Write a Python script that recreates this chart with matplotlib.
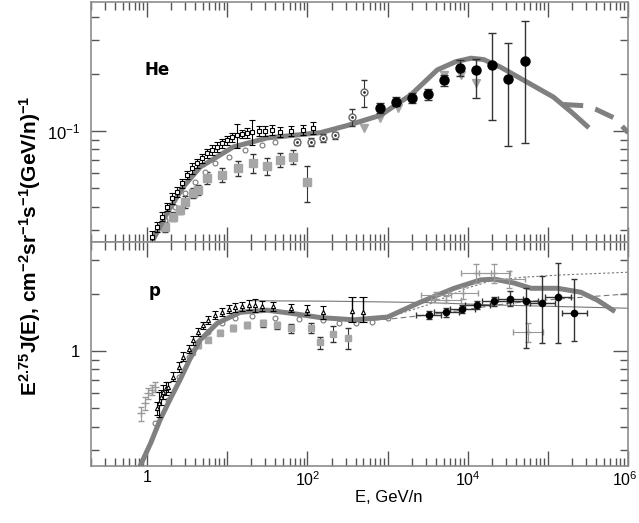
import matplotlib
matplotlib.use("Agg")
import matplotlib.pyplot as plt
from matplotlib.ticker import FixedLocator, LogLocator, FuncFormatter, NullFormatter
from matplotlib.transforms import ScaledTranslation

plt.rcParams['font.family'] = ['Liberation Sans', 'DejaVu Sans']
plt.rcParams['mathtext.fontset'] = 'custom'
plt.rcParams['mathtext.rm'] = 'Liberation Sans'
plt.rcParams['mathtext.it'] = 'Liberation Sans:italic'
plt.rcParams['mathtext.bf'] = 'Liberation Sans:bold'

# ---------------- He panel ----------------
he_curve_E = [1.15, 1.78, 2.82, 4.6, 11.9, 31.6, 145, 316, 813, 1950, 4170, 7080,
              11000, 15800, 25700, 56200, 117000, 200000, 324000]
he_curve_J = [0.026, 0.037, 0.0507, 0.0646, 0.0824, 0.092, 0.098, 0.107, 0.121, 0.155,
              0.21, 0.232, 0.242, 0.238, 0.217, 0.18, 0.151, 0.125, 0.104]
he_dash_E = [155000, 282000, 398000, 676000, 1000000]
he_dash_J = [0.138, 0.136, 0.130, 0.117, 0.098]

# black open markers, upper band
he_band_E = [1.14, 1.32, 1.52, 1.76, 2.03, 2.35, 2.71, 3.13, 3.61, 4.18, 4.82, 5.57, 6.43,
             7.43, 8.58, 9.9, 11.4, 13.2, 15.3, 17.6, 20.3, 24.6, 29.9, 36.2, 45.7, 63, 87, 119]
he_band_J = [0.0278, 0.0313, 0.0354, 0.040, 0.0443, 0.048, 0.0531, 0.0586, 0.0636, 0.0676,
             0.0718, 0.0763, 0.0794, 0.0827, 0.0861, 0.0897, 0.0927, 0.0953, 0.0964, 0.098,
             0.099, 0.1004, 0.1004, 0.101, 0.0988, 0.100, 0.101, 0.104]
he_band_err = [0.002, 0.002, 0.002, 0.002, 0.003, 0.003, 0.003, 0.003, 0.004, 0.004, 0.004,
               0.004, 0.005, 0.005, 0.005, 0.005, 0.005, 0.014, 0.005, 0.006, 0.015, 0.006,
               0.006, 0.006, 0.006, 0.006, 0.006, 0.007]

# gray open circles along the curve
he_oc_E = [1.26, 1.68, 2.24, 2.98, 3.98, 5.31, 7.08, 10.4, 16.8, 27, 39.8]
he_oc_J = [0.0289, 0.034, 0.040, 0.047, 0.054, 0.061, 0.0676, 0.0733, 0.0794, 0.0844, 0.0879]

# gray filled squares, lower band
he_sq_E = [1.68, 2.13, 2.58, 2.98, 3.76, 4.38, 5.6, 8.7, 13.7, 21, 31.6, 46, 67, 100]
he_sq_J = [0.0313, 0.0354, 0.0384, 0.0425, 0.0472, 0.049, 0.0566, 0.0587, 0.0638, 0.0679,
           0.0655, 0.0704, 0.073, 0.054]
he_sq_err = [0.002, 0.002, 0.002, 0.003, 0.003, 0.003, 0.004, 0.005, 0.006, 0.008, 0.007,
             0.006, 0.006, 0.0115]

# gray dotted circles
he_circ_E = [75, 110, 158, 224, 363, 501]
he_circ_J = [0.0876, 0.0876, 0.092, 0.0953, 0.1185, 0.160]
he_circ_err = [0.003, 0.004, 0.004, 0.004, 0.012, 0.026]

# gray triangles
he_tri_E = [501, 813, 1330, 5010, 8130, 12600]
he_tri_J = [0.104, 0.117, 0.132, 0.197, 0.197, 0.179]

# black filled circles
he_blk_E = [794, 1260, 2000, 3160, 5010, 7940, 12600, 20000, 31600, 51300]
he_blk_J = [0.132, 0.143, 0.150, 0.156, 0.185, 0.216, 0.209, 0.222, 0.187, 0.234]
he_blk_lo = [0.008, 0.008, 0.009, 0.010, 0.012, 0.02, 0.06, 0.107, 0.104, 0.148]
he_blk_hi = [0.008, 0.008, 0.009, 0.010, 0.012, 0.02, 0.03, 0.105, 0.103, 0.146]

# ---------------- proton panel ----------------
p_curve_E = [0.82, 1.12, 1.45, 1.95, 2.57, 3.39, 4.57, 7.5, 14.5, 31.6, 63.1, 145,
             380, 1000, 2570, 6760, 14500, 21400, 38000, 61700, 132000, 257000, 417000, 646000]
p_curve_J = [0.248, 0.33, 0.433, 0.56, 0.703, 0.9, 1.14, 1.40, 1.60, 1.64, 1.58, 1.50,
             1.46, 1.51, 1.81, 2.14, 2.37, 2.39, 2.28, 2.14, 2.14, 2.04, 1.85, 1.64]

p_dot_E = [1000, 3160, 10000, 20000, 50100, 158000, 1000000]
p_dot_J = [1.50, 1.75, 2.15, 2.35, 2.45, 2.52, 2.60]
p_dash_E = [316, 1000, 3160, 10000, 31600, 100000, 316000, 1000000]
p_dash_J = [1.43, 1.47, 1.55, 1.66, 1.78, 1.86, 1.93, 2.00]
p_thin_E = [20, 200, 3000, 20000, 1000000]
p_thin_J = [1.84, 1.83, 1.80, 1.75, 1.68]

# low-energy crosses (gray) and black points
p_lx_E = [0.84, 0.93, 1.04, 1.15, 1.26]
p_lx_J = [0.47, 0.53, 0.60, 0.625, 0.65]
p_lb_E = [1.33, 1.41, 1.5, 1.6, 1.72]
p_lb_J = [0.50, 0.53, 0.57, 0.61, 0.64]
p_lb_err = [0.04, 0.08, 0.05, 0.05, 0.05]

# black open markers, upper band
p_band_E = [1.85, 2.13, 2.47, 2.84, 3.29, 3.79, 4.38, 5.06, 5.84, 7.08, 8.58, 10.4, 12.6,
            15.3, 18.5, 22.4, 27.1, 37.6, 61.7, 100, 158]
p_band_J = [0.649, 0.732, 0.826, 0.933, 1.03, 1.14, 1.26, 1.37, 1.46, 1.55, 1.61, 1.66, 1.70,
            1.72, 1.75, 1.75, 1.73, 1.72, 1.68, 1.64, 1.60]
p_band_err = [0.04, 0.04, 0.05, 0.05, 0.05, 0.06, 0.06, 0.06, 0.07, 0.07, 0.08, 0.08, 0.09,
              0.1, 0.1, 0.14, 0.1, 0.1, 0.08, 0.1, 0.12]

# two points with long error bars near 400 GeV
p_mid_E = [365, 490]
p_mid_J = [1.62, 1.60]
p_mid_lo = [0.20, 0.18]
p_mid_hi = [0.31, 0.33]

# gray open circles along the curve
p_circ_E = [1.26, 1.85, 2.47, 3.29, 4.38, 5.84, 8.58, 12.6, 20.3, 39.8, 79.4, 158, 251, 398, 631, 1000]
p_circ_J = [0.416, 0.552, 0.732, 0.933, 1.12, 1.26, 1.40, 1.49, 1.53, 1.50, 1.47, 1.45, 1.41,
            1.40, 1.42, 1.49]

# gray squares, lower band
p_sq_E = [3.61, 4.38, 5.84, 8.1, 11.9, 17.8, 28.2, 42.2, 61.7, 110, 145, 211, 324]
p_sq_J = [0.99, 1.07, 1.15, 1.25, 1.32, 1.37, 1.40, 1.37, 1.32, 1.32, 1.11, 1.23, 1.17]
p_sq_err = [0.03, 0.03, 0.04, 0.04, 0.05, 0.05, 0.06, 0.06, 0.07, 0.08, 0.08, 0.12, 0.15]

# black filled points with horizontal bars
p_blk_E = [3240, 5370, 8510, 13200, 21400, 33900, 52500, 85100, 132000, 214000]
p_blk_J = [1.55, 1.60, 1.66, 1.75, 1.83, 1.88, 1.83, 1.79, 1.92, 1.58]
p_blk_lo = [0.07, 0.08, 0.08, 0.08, 0.1, 0.15, 0.79, 0.69, 0.82, 0.45]
p_blk_hi = [0.07, 0.08, 0.08, 0.08, 0.1, 0.2, 0.31, 0.69, 0.98, 0.81]

# gray crosses
p_gx_E = [3980, 5370, 8710, 12600, 21400, 33100, 56200]
p_gx_J = [1.97, 1.86, 2.02, 2.57, 2.57, 2.40, 1.26]
p_gx_err = [0.08, 0.08, 0.15, 0.3, 0.3, 0.25, 0.14]

xmajor = [0.1, 1, 10, 100, 1e3, 1e4, 1e5, 1e6]
xlabels = {1: '1', 100: r'$10^2$', 1e4: r'$10^4$', 1e6: r'$10^6$'}

CURVE = '#808080'
FRAME = '#8c8c8c'

fig, (ax1, ax2) = plt.subplots(2, 1, figsize=(6.39, 5.23), dpi=100, sharex=True,
                               gridspec_kw={'height_ratios': [240, 224]})
fig.subplots_adjust(left=0.1424, right=0.983, top=0.996, bottom=0.109, hspace=0)

# He
ax1.errorbar(he_sq_E, he_sq_J, yerr=he_sq_err, fmt='s', ms=6, color='#a6a6a6', ecolor='#333333',
             elinewidth=0.8, capsize=2, zorder=3)
ax1.plot(he_oc_E, he_oc_J, 'o', ms=3.5, mfc='white', mec='#777777', mew=0.8, zorder=3)
ax1.plot(he_curve_E, he_curve_J, color=CURVE, lw=3.6, solid_capstyle='butt', zorder=4)
ax1.plot(he_dash_E, he_dash_J, color=CURVE, lw=3.6, dashes=(4, 2.5), zorder=4)
ax1.errorbar(he_band_E, he_band_J, yerr=he_band_err, fmt='s', ms=3, mfc='white', mec='black',
             mew=0.8, ecolor='black', elinewidth=0.8, capsize=2, zorder=5)
ax1.errorbar(he_circ_E, he_circ_J, yerr=he_circ_err, fmt='o', ms=5, mfc='white', mec='#666666',
             mew=1, ecolor='#333333', elinewidth=0.8, capsize=2.5, zorder=5)
ax1.plot(he_circ_E, he_circ_J, '.', ms=2, color='#333333', zorder=6)
ax1.plot(he_tri_E, he_tri_J, 'v', ms=6, color='#a6a6a6', zorder=3)
ax1.errorbar(he_blk_E, he_blk_J, yerr=[he_blk_lo, he_blk_hi], fmt='o', ms=6.5, color='black',
             ecolor='#333333', elinewidth=1, capsize=3, zorder=6)
ax1.text(0.123, 0.717, 'He', transform=ax1.transAxes, fontsize=12, fontweight='bold',
         family=['DejaVu Sans'], ha='center', va='center')
ax1.set_ylim(0.026, 0.478)

# p
ax2.plot(p_dot_E, p_dot_J, color='#777777', lw=0.8, ls=(0, (2, 2)), zorder=2)
ax2.plot(p_dash_E, p_dash_J, color='#777777', lw=0.8, ls=(0, (5, 3)), zorder=2)
ax2.plot(p_thin_E, p_thin_J, color='#777777', lw=0.8, zorder=2)
ax2.errorbar(p_sq_E, p_sq_J, yerr=p_sq_err, fmt='s', ms=5, color='#a6a6a6', ecolor='#333333',
             elinewidth=0.8, capsize=2, zorder=3)
ax2.plot(p_circ_E, p_circ_J, 'o', ms=3.5, mfc='white', mec='#777777', mew=0.8, zorder=3)
ax2.plot(p_curve_E, p_curve_J, color=CURVE, lw=3.6, zorder=4)
ax2.errorbar(p_lx_E, p_lx_J, yerr=0.04, fmt='+', ms=6, color='#999999', elinewidth=0.8,
             capsize=2, zorder=5)
ax2.errorbar(p_lb_E, p_lb_J, yerr=p_lb_err, fmt='^', ms=3, mfc='white', mec='black', mew=0.8,
             ecolor='black', elinewidth=0.8, capsize=2, zorder=5)
ax2.errorbar(p_band_E, p_band_J, yerr=p_band_err, fmt='^', ms=3, mfc='white', mec='black',
             mew=0.8, ecolor='black', elinewidth=0.8, capsize=2, zorder=5)
ax2.errorbar(p_mid_E, p_mid_J, yerr=[p_mid_lo, p_mid_hi], fmt='^', ms=3, mfc='white', mec='black',
             mew=0.8, ecolor='black', elinewidth=1, capsize=3, zorder=5)
ax2.errorbar(p_gx_E, p_gx_J, yerr=p_gx_err, xerr=[[e * 0.35 for e in p_gx_E], [e * 0.55 for e in p_gx_E]],
             fmt='+', ms=5, color='#999999', elinewidth=0.8, capsize=2, zorder=5)
ax2.errorbar(p_blk_E, p_blk_J, yerr=[p_blk_lo, p_blk_hi],
             xerr=[[e * 0.3 for e in p_blk_E], [e * 0.45 for e in p_blk_E]],
             fmt='o', ms=4.5, color='black', ecolor='#333333', elinewidth=1, capsize=2, zorder=6)
ax2.text(0.119, 0.78, 'p', transform=ax2.transAxes, fontsize=12, fontweight='bold',
         family=['DejaVu Sans'], ha='center', va='center')
ax2.set_ylim(0.248, 3.75)

for ax in (ax1, ax2):
    ax.set_xscale('log')
    ax.set_yscale('log')
    ax.set_xlim(0.2, 1e6)
    for s in ax.spines.values():
        s.set_color(FRAME)
        s.set_linewidth(1.2)
    ax.xaxis.set_major_locator(FixedLocator(xmajor))
    ax.xaxis.set_minor_locator(LogLocator(base=10, subs=range(2, 10), numticks=50))
    ax.xaxis.set_minor_formatter(NullFormatter())
    ax.yaxis.set_minor_locator(LogLocator(base=10, subs=range(2, 10), numticks=50))
    ax.yaxis.set_minor_formatter(NullFormatter())
    ax.tick_params(which='both', direction='in', top=True, right=True, color='#555555',
                   width=1, labelsize=12)
    ax.tick_params(which='major', length=11)
    ax.tick_params(which='minor', length=6)
    ax.tick_params(axis='y', pad=8)
    ax.tick_params(axis='x', pad=3, labelsize=11.5)

ax1.yaxis.set_major_locator(FixedLocator([0.1]))
ax1.yaxis.set_major_formatter(FuncFormatter(lambda v, p: r'$10^{-1}$'))
ax2.yaxis.set_major_locator(FixedLocator([1]))
ax2.yaxis.set_major_formatter(FuncFormatter(lambda v, p: '1'))
ax2.xaxis.set_major_formatter(FuncFormatter(lambda v, p: xlabels.get(v, '')))

ax2.set_xlabel('E, GeV/n', fontsize=12)
ax2.xaxis.set_label_coords(0.555, -0.105)
fig.text(0.047, 0.53,
         r'E$^{\mathbf{2.75}}$J(E), cm$^{\mathbf{-2}}$sr$^{\mathbf{-1}}$s$^{\mathbf{-1}}$(GeV/n)$^{\mathbf{-1}}$',
         rotation=90, ha='center', va='center', fontsize=15, fontweight='bold')

# keep the last tick label inside the canvas
fig.canvas.draw()
for lab in ax2.get_xticklabels():
    if lab.get_text() == r'$10^6$':
        lab.set_transform(lab.get_transform() + ScaledTranslation(-3 / 100, 0, fig.dpi_scale_trans))

fig.savefig('out.png', dpi=100)
